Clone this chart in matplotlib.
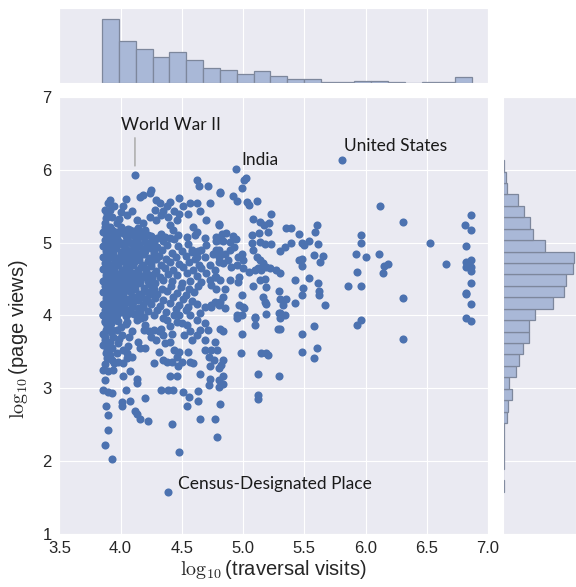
"""Joint scatter of traversal visits vs page views with marginal histograms."""
import numpy as np
import matplotlib
matplotlib.use("Agg")
import matplotlib.pyplot as plt
import seaborn as sns

# ---- scatter points (log10 traversal visits, log10 page views)
core_pts = [
    (3.87, 5.21), (3.93, 5.18), (4.00, 5.22), (4.06, 5.19), (4.14, 5.20),
    (3.88, 5.12), (3.95, 5.10), (4.02, 5.13), (4.10, 5.11), (4.17, 5.14), (4.25, 5.09), (4.33, 5.12),
    (3.87, 5.04), (3.92, 5.06), (3.98, 5.02), (4.05, 5.05), (4.12, 5.03), (4.19, 5.06), (4.26, 5.04),
    (4.35, 5.02), (4.44, 5.05),
    (3.86, 4.96), (3.91, 4.94), (3.97, 4.97), (4.03, 4.95), (4.09, 4.98), (4.15, 4.95), (4.22, 4.97),
    (4.30, 4.94), (4.38, 4.97), (4.47, 4.95), (4.55, 4.98),
    (3.88, 4.88), (3.94, 4.90), (4.00, 4.87), (4.07, 4.89), (4.13, 4.86), (4.20, 4.89), (4.27, 4.87),
    (4.34, 4.90), (4.42, 4.86), (4.50, 4.89), (4.58, 4.87), (4.66, 4.90),
    (3.86, 4.80), (3.91, 4.82), (3.96, 4.79), (4.02, 4.81), (4.08, 4.78), (4.15, 4.81), (4.23, 4.79),
    (4.31, 4.82), (4.37, 4.78), (4.45, 4.80), (4.53, 4.82), (4.61, 4.78), (4.69, 4.81),
    (3.87, 4.72), (3.93, 4.70), (3.99, 4.73), (4.05, 4.71), (4.11, 4.74), (4.18, 4.70), (4.25, 4.72),
    (4.33, 4.69), (4.40, 4.73), (4.48, 4.71), (4.56, 4.74), (4.64, 4.70),
    (3.86, 4.64), (3.90, 4.62), (3.95, 4.65), (4.01, 4.63), (4.07, 4.66), (4.14, 4.62), (4.21, 4.64),
    (4.29, 4.61), (4.36, 4.65), (4.43, 4.62), (4.51, 4.66), (4.59, 4.63), (4.66, 4.65),
    (3.88, 4.56), (3.93, 4.54), (3.98, 4.57), (4.04, 4.55), (4.10, 4.58), (4.17, 4.54), (4.24, 4.56),
    (4.32, 4.53), (4.39, 4.57), (4.46, 4.55), (4.54, 4.58), (4.62, 4.54),
    (3.86, 4.48), (3.91, 4.46), (3.97, 4.49), (4.03, 4.47), (4.09, 4.50), (4.16, 4.46), (4.22, 4.48),
    (4.28, 4.45), (4.35, 4.49), (4.42, 4.47), (4.50, 4.44), (4.57, 4.48), (4.66, 4.46),
    (3.87, 4.40), (3.92, 4.38), (3.98, 4.41), (4.05, 4.39), (4.12, 4.42), (4.19, 4.38), (4.26, 4.40),
    (4.34, 4.37), (4.41, 4.41), (4.49, 4.39), (4.56, 4.36), (4.63, 4.40),
    (3.86, 4.32), (3.91, 4.30), (3.96, 4.33), (4.02, 4.31), (4.08, 4.34), (4.15, 4.30), (4.22, 4.32),
    (4.30, 4.29), (4.38, 4.33), (4.46, 4.31), (4.53, 4.28), (4.60, 4.32),
    (3.88, 4.24), (3.93, 4.22), (3.99, 4.25), (4.06, 4.23), (4.13, 4.26), (4.20, 4.22), (4.28, 4.24),
    (4.35, 4.21), (4.43, 4.25), (4.51, 4.23), (4.58, 4.20),
    (3.86, 4.16), (3.92, 4.14), (3.97, 4.17), (4.03, 4.15), (4.10, 4.18), (4.18, 4.14), (4.25, 4.16),
    (4.32, 4.13), (4.40, 4.17), (4.48, 4.15), (4.55, 4.12), (4.62, 4.16),
    (3.87, 4.08), (3.93, 4.06), (3.99, 4.09), (4.06, 4.07), (4.14, 4.10), (4.22, 4.06), (4.30, 4.08),
    (4.37, 4.05), (4.45, 4.09), (4.53, 4.07),
    (3.86, 4.00), (3.91, 3.98), (3.97, 4.01), (4.04, 3.99), (4.11, 4.02), (4.19, 3.98), (4.27, 4.00),
    (4.35, 3.97), (4.44, 4.01),
    (3.87, 3.92), (3.92, 3.90), (3.98, 3.93), (4.05, 3.91), (4.13, 3.94),
]

# extra points packed into the densest part (x < 4.3)
core_fill = [
    (3.89, 5.16), (3.96, 5.15), (4.03, 5.17), (4.11, 5.16), (4.20, 5.17),
    (3.90, 5.08), (3.97, 5.07), (4.04, 5.09), (4.13, 5.07), (4.22, 5.10), (4.30, 5.07),
    (3.89, 5.00), (3.95, 5.01), (4.01, 4.99), (4.07, 5.01), (4.14, 4.99), (4.24, 5.00),
    (3.89, 4.92), (3.96, 4.93), (4.04, 4.91), (4.11, 4.93), (4.18, 4.92), (4.25, 4.93),
    (3.89, 4.84), (3.94, 4.85), (4.00, 4.83), (4.05, 4.85), (4.11, 4.83), (4.19, 4.85), (4.27, 4.84),
    (3.89, 4.76), (3.95, 4.77), (4.02, 4.75), (4.08, 4.77), (4.15, 4.76), (4.22, 4.75), (4.29, 4.77),
    (3.88, 4.68), (3.93, 4.67), (3.98, 4.69), (4.04, 4.67), (4.10, 4.69), (4.17, 4.67), (4.25, 4.68),
    (3.89, 4.60), (3.95, 4.61), (4.01, 4.59), (4.07, 4.61), (4.14, 4.59), (4.21, 4.60), (4.28, 4.58),
    (3.88, 4.52), (3.94, 4.51), (4.00, 4.53), (4.06, 4.52), (4.13, 4.51), (4.19, 4.53), (4.26, 4.52),
    (3.89, 4.44), (3.95, 4.43), (4.01, 4.45), (4.08, 4.43), (4.15, 4.44), (4.23, 4.43),
    (3.88, 4.36), (3.94, 4.35), (4.00, 4.37), (4.06, 4.35), (4.12, 4.36), (4.19, 4.34), (4.27, 4.36),
    (3.89, 4.28), (3.95, 4.27), (4.02, 4.29), (4.09, 4.27), (4.17, 4.28), (4.24, 4.29),
    (3.88, 4.20), (3.95, 4.19), (4.01, 4.21), (4.07, 4.19), (4.14, 4.21), (4.22, 4.20),
    (3.89, 4.12), (3.96, 4.11), (4.02, 4.13), (4.09, 4.11), (4.18, 4.12),
    (3.88, 4.04), (3.95, 4.03), (4.01, 4.05), (4.08, 4.04), (4.16, 4.05),
]

upper_pts = [
    (4.117, 5.93), (4.625, 5.86), (4.64, 5.78), (4.71, 5.78), (4.81, 5.70), (4.48, 5.62),
    (4.25, 5.73), (4.24, 5.68), (4.185, 5.66), (4.16, 5.63),
    (3.91, 5.59), (3.90, 5.54), (3.87, 5.45), (3.91, 5.45), (3.95, 5.50),
    (4.04, 5.60), (4.02, 5.50), (4.09, 5.43), (4.05, 5.38),
    (4.29, 5.59), (4.32, 5.54), (4.28, 5.45), (4.35, 5.43), (4.40, 5.56), (4.375, 5.50), (4.39, 5.36),
    (4.44, 5.43), (4.48, 5.40), (4.46, 5.31), (4.51, 5.50), (4.57, 5.54), (4.55, 5.40),
    (4.62, 5.54), (4.65, 5.43), (4.70, 5.31),
    (4.80, 5.24), (4.78, 5.08), (4.80, 5.04),
    (4.13, 5.31), (4.185, 5.27), (4.24, 5.36), (4.29, 5.31), (4.33, 5.38),
    (3.87, 5.27), (3.91, 5.22), (3.97, 5.27), (3.86, 5.15), (3.99, 5.15),
    (4.08, 5.17), (4.13, 5.13), (4.05, 5.08), (4.20, 5.01), (4.27, 5.01), (4.21, 5.11),
    (4.40, 5.24), (4.43, 5.17), (4.47, 5.11), (4.40, 5.06), (4.36, 5.08),
    (4.59, 5.22), (4.62, 5.15), (4.61, 5.11), (4.54, 5.08),
    (4.69, 5.06), (4.70, 4.97), (4.63, 4.88), (4.62, 4.81), (4.58, 4.90),
    (4.80, 4.90), (4.80, 4.81), (4.73, 4.69), (4.77, 4.62), (4.70, 4.58), (4.73, 4.49), (4.78, 4.53),
    (3.88, 5.34), (3.93, 5.36), (3.99, 5.33), (3.89, 5.40), (4.00, 5.42),
]

mid_pts = [
    (4.94, 6.01), (5.02, 5.89), (5.005, 5.86), (4.99, 5.75), (4.815, 5.69), (4.92, 5.64), (4.95, 5.58),
    (5.03, 5.56), (5.05, 5.52), (5.11, 5.57), (5.23, 5.40), (5.08, 5.33), (5.14, 5.29), (5.17, 5.24),
    (5.21, 5.27), (5.20, 5.15), (5.07, 5.11), (5.13, 5.14), (5.35, 5.20), (4.80, 5.26), (4.83, 5.12),
    (4.86, 5.13), (4.73, 5.54), (4.78, 5.03), (4.84, 5.03), (4.92, 5.09), (4.89, 5.01), (4.945, 5.05),
    (5.07, 4.99), (5.14, 5.01), (5.18, 4.98), (5.23, 4.98), (5.30, 4.88), (5.34, 4.94),
    (4.78, 4.90), (4.755, 4.85), (4.81, 4.83), (4.85, 4.85), (4.89, 4.90), (4.93, 4.94), (4.99, 4.85),
    (4.96, 4.81), (5.00, 4.76), (4.88, 4.76), (4.84, 4.72), (4.80, 4.74), (4.90, 4.67), (4.95, 4.69),
    (5.00, 4.65), (5.08, 4.90), (5.11, 4.81), (5.14, 4.76), (5.16, 4.72), (5.19, 4.67), (5.12, 4.65),
    (5.10, 4.62), (5.15, 4.62), (5.22, 4.65), (5.27, 4.62), (5.30, 4.59), (5.05, 4.60), (4.97, 4.53),
    (4.96, 4.46), (4.89, 4.49), (4.81, 4.49), (4.77, 4.53), (4.74, 4.42), (4.78, 4.37), (4.85, 4.37),
    (4.84, 4.26), (4.77, 4.19), (4.74, 4.12), (4.80, 4.14), (4.85, 4.10), (4.99, 4.28), (4.97, 4.15),
    (5.00, 4.12), (5.08, 4.40), (5.14, 4.49), (5.18, 4.50), (5.19, 4.39), (5.16, 4.26), (5.19, 4.16),
    (5.29, 4.33), (5.30, 4.23), (5.33, 4.14), (5.35, 4.23), (5.30, 4.03), (5.34, 4.01), (4.95, 4.01),
    (4.99, 4.01), (5.10, 3.98), (5.19, 4.02),
]

right_pts = [
    (5.395, 5.20), (5.46, 5.12), (5.395, 5.00), (5.48, 5.00), (5.50, 4.97), (5.54, 5.03), (5.60, 5.25),
    (5.59, 5.15), (5.61, 4.98), (5.58, 4.83), (5.65, 4.82), (5.63, 4.73), (5.46, 4.76), (5.48, 4.78),
    (5.48, 4.68), (5.42, 4.49), (5.54, 4.52), (5.49, 4.38), (5.48, 4.28), (5.61, 4.44), (5.62, 4.34),
    (5.62, 4.28), (5.42, 4.17), (5.67, 4.14),
    (5.81, 6.14), (6.12, 5.51), (6.31, 5.28), (5.96, 5.10), (5.96, 4.99), (5.92, 4.84), (6.00, 4.81),
    (6.11, 4.84), (6.15, 4.68), (6.18, 4.71), (6.14, 4.59), (5.93, 4.60), (5.86, 4.40), (5.96, 4.41),
    (6.31, 4.24), (5.96, 3.94), (5.93, 3.87), (6.31, 3.67), (6.53, 5.00), (6.66, 4.71),
    (6.865, 5.38), (6.81, 5.25), (6.86, 5.17), (6.82, 4.96), (6.82, 4.73), (6.865, 4.76), (6.86, 4.67),
    (6.82, 4.66), (6.865, 4.61), (6.835, 4.69), (6.865, 4.45), (6.82, 4.31), (6.82, 4.29), (6.86, 4.16),
    (6.82, 3.97), (6.86, 3.93),
]

lower_pts = [
    (3.86, 4.01), (3.87, 3.91), (3.89, 3.85), (3.86, 3.75), (3.87, 3.66), (3.90, 3.59), (3.89, 3.52),
    (3.91, 3.45), (3.93, 3.39), (3.95, 3.34), (3.98, 3.36), (4.02, 3.34), (4.05, 3.41), (4.09, 3.43),
    (3.86, 3.25), (3.90, 3.23), (3.94, 3.25), (3.87, 3.11), (3.86, 2.97), (3.90, 2.95), (3.93, 2.93),
    (4.02, 3.16), (4.08, 3.23), (4.13, 3.13), (4.13, 3.07), (4.04, 2.97), (4.01, 2.81), (4.01, 2.75),
    (4.08, 2.82), (3.88, 2.75), (3.90, 2.63), (3.90, 2.43), (3.87, 2.22), (3.93, 2.02), (4.12, 2.69),
    (4.13, 2.65), (4.16, 2.57), (4.22, 2.55), (4.20, 2.87), (4.42, 2.51), (4.48, 2.12), (4.27, 3.34),
    (4.33, 2.97), (4.39, 2.97), (4.43, 2.97), (4.40, 3.17), (4.46, 3.16), (4.51, 2.95), (4.56, 2.88),
    (4.54, 2.76), (4.63, 2.96), (4.63, 2.82), (4.65, 2.58), (4.77, 2.58), (4.79, 2.33), (4.73, 3.13),
    (4.72, 3.04), (4.65, 3.20), (4.80, 3.11), (4.80, 3.02),
    (3.95, 3.94), (3.91, 3.87), (3.97, 3.80), (3.94, 3.71), (4.01, 3.73), (3.98, 3.62), (4.02, 3.52),
    (4.05, 3.48), (3.97, 3.48), (3.88, 3.95), (3.92, 3.82), (3.86, 3.60), (3.89, 3.42), (3.93, 3.55),
    (3.99, 3.68), (4.06, 3.58), (4.04, 3.88), (4.09, 3.78), (3.88, 3.80), (3.87, 3.70), (3.91, 3.64),
    (3.88, 3.48), (3.92, 3.77), (4.00, 3.84), (4.07, 3.70), (3.87, 3.33),
    (4.13, 4.01), (4.17, 3.96), (4.20, 3.87), (4.19, 3.80), (4.23, 3.78), (4.27, 3.80), (4.31, 3.78),
    (4.33, 3.82), (4.25, 3.71), (4.29, 3.66), (4.35, 3.73), (4.14, 3.64), (4.16, 3.55), (4.20, 3.55),
    (4.31, 3.50), (4.36, 3.62), (4.40, 3.64), (4.42, 3.75), (4.40, 3.85), (4.38, 3.94), (4.46, 3.91),
    (4.50, 3.89), (4.54, 3.87), (4.57, 3.78), (4.52, 3.73), (4.58, 3.66), (4.62, 3.73), (4.65, 3.80),
    (4.69, 3.66), (4.71, 3.80), (4.69, 3.89), (4.62, 3.94), (4.57, 4.01), (4.48, 4.01), (4.44, 3.52),
    (4.48, 3.50), (4.46, 3.43), (4.50, 3.36), (4.47, 3.30), (4.42, 3.36), (4.38, 3.36), (4.35, 3.39),
    (4.55, 3.50), (4.57, 3.36), (4.59, 3.34), (4.69, 3.52), (4.72, 3.43), (4.74, 3.52), (4.76, 3.39),
    (4.80, 3.27), (4.73, 3.30), (4.79, 3.52), (4.77, 3.64), (4.65, 4.03), (4.74, 4.14), (4.80, 4.17),
    (4.69, 4.12),
    (4.81, 4.19), (5.01, 4.10), (5.18, 4.19), (4.95, 3.96), (5.10, 3.96), (5.10, 3.87), (5.29, 4.04),
    (5.30, 3.96), (5.285, 3.82), (5.30, 3.82), (5.48, 3.74), (5.58, 3.85), (4.99, 3.75), (4.81, 3.82),
    (4.84, 3.78), (4.98, 3.49), (5.15, 3.48), (5.19, 3.49), (5.20, 3.46), (5.48, 3.50), (5.60, 3.55),
    (5.58, 3.42), (4.84, 3.39), (4.82, 3.32), (5.12, 3.20), (5.29, 3.17), (4.84, 3.16), (4.84, 3.05),
    (5.12, 2.91), (5.12, 2.85), (4.81, 2.78),
    (4.39, 1.575),
]

# ---- marginal histogram counts
x_bin_lo, x_bin_w = 3.85, 0.1373
x_counts = [191, 125, 100, 78, 92, 67, 43, 37, 26, 34, 19, 11, 11, 3, 3, 5, 5, 2, 0, 1, 1, 16]
y_bin_lo, y_bin_w = 1.575, 0.1573
y_counts = [1, 0, 1, 1, 2, 2, 5, 7, 12, 9, 18, 22, 28, 36, 36, 45, 70, 86, 89, 99, 100,
            59, 43, 38, 29, 21, 6, 4, 2]

# ---- labelled articles
labels = ["World War II", "India", "United States", "Census-Designated Place"]

pts = np.array(core_pts + core_fill + upper_pts + mid_pts + right_pts + lower_pts)

sns.set_style("darkgrid")
plt.rcParams["font.family"] = ["Liberation Sans", "DejaVu Sans"]
plt.rcParams["mathtext.fontset"] = "cm"

BLUE = "#4C72B0"
HIST_FACE = "#A9B8D7"
HIST_EDGE = "#7D879C"

fig = plt.figure(figsize=(5.76, 5.87), dpi=100)
ax = fig.add_axes([0.1031, 0.0911, 0.7441, 0.7431])
ax_top = fig.add_axes([0.1031, 0.8591, 0.7441, 0.1267])
ax_right = fig.add_axes([0.8733, 0.0911, 0.1267, 0.7431])

ax.scatter(pts[:, 0], pts[:, 1], s=34, color=BLUE, linewidths=0, zorder=3)
ax.set_xlim(3.5, 7.0)
ax.set_ylim(1, 7)
ax.set_xticks(np.arange(3.5, 7.01, 0.5))
ax.set_yticks(range(1, 8))
ax.tick_params(labelsize=12, colors="#262626", pad=2)
ax.set_xlabel(r"$\log_{10}$(traversal visits)", fontsize=14.5, labelpad=1)
ax.set_ylabel(r"$\log_{10}$(page views)", fontsize=14.5)
ax.yaxis.set_label_coords(-0.068, 0.445)

tfont = dict(family=["Lato", "DejaVu Sans"], fontsize=12.5, color="#1a1a1a")
ax.text(4.0, 6.55, labels[0], **tfont)
ax.annotate("", xy=(4.117, 6.02), xytext=(4.117, 6.48),
            arrowprops=dict(arrowstyle="-", color="#b0b0b0", lw=1.2))
ax.text(4.99, 6.07, labels[1], **tfont)
ax.text(5.825, 6.26, labels[2], **tfont)
ax.text(4.47, 1.612, labels[3], **tfont)

# marginals
x_edges = x_bin_lo + x_bin_w * np.arange(len(x_counts))
ax_top.bar(x_edges, x_counts, width=x_bin_w, align="edge", color=HIST_FACE,
           edgecolor=HIST_EDGE, linewidth=0.9)
ax_top.set_xlim(3.5, 7.0)
ax_top.set_ylim(0, 223)
ax_top.set_xticks(np.arange(3.5, 7.01, 0.5))
ax_top.set_yticks([])
ax_top.tick_params(labelbottom=False, length=0)

y_edges = y_bin_lo + y_bin_w * np.arange(len(y_counts))
ax_right.barh(y_edges, y_counts, height=y_bin_w, align="edge", color=HIST_FACE,
              edgecolor=HIST_EDGE, linewidth=0.9)
ax_right.set_ylim(1, 7)
ax_right.set_xlim(0, 103)
ax_right.set_yticks(range(1, 8))
ax_right.set_xticks([])
ax_right.tick_params(labelleft=False, length=0)

fig.savefig("out.png", dpi=100)
